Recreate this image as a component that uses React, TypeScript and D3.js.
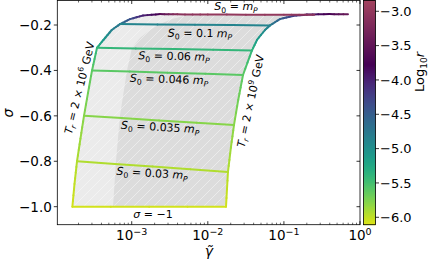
import React from "react";
import * as d3 from "d3";

// T_r = 2 x 10^6 GeV boundary
const leftGamma = [1.66e-4, 1.77e-4, 1.91e-4, 2.12e-4, 2.36e-4, 2.66e-4, 3.01e-4, 3.5e-4, 4.24e-4, 5.46e-4, 7.01e-4, 9.48e-4, 1.41e-3, 2.36e-3];
const leftSigma = [-1.0, -0.9, -0.8, -0.7, -0.6, -0.5, -0.4, -0.3, -0.266, -0.222, -0.196, -0.174, -0.158, -0.152];
const leftLogR = [-6.06, -6.0, -5.94, -5.86, -5.79, -5.7, -5.62, -5.4, -5.1, -4.85, -4.75, -4.4, -4.0, -3.75];

// T_r = 2 x 10^9 GeV boundary
const rightGamma = [0.01734, 0.0184, 0.0201, 0.0221, 0.0251, 0.029, 0.038, 0.0443, 0.0564, 0.0656, 0.0887, 0.1315, 0.201, 0.398, 0.695];
const rightSigma = [-1.0, -0.847, -0.74, -0.64, -0.53, -0.42, -0.312, -0.266, -0.222, -0.202, -0.174, -0.16, -0.154, -0.152, -0.153];
const rightLogR = [-6.06, -5.95, -5.87, -5.8, -5.7, -5.62, -5.4, -5.15, -4.95, -4.8, -4.55, -4.25, -3.95, -3.75, -3.4];

// darker shaded region, left edge
const midGamma = [5.68e-4, 6.21e-4, 7.01e-4, 8.67e-4, 1.009e-3, 1.285e-3, 1.738e-3, 2.355e-3, 3.39e-3, 5.18e-3, 9.18e-3];
const midSigma = [-1.0, -0.8, -0.6, -0.4, -0.3, -0.257, -0.222, -0.196, -0.174, -0.158, -0.153];

// S0 = m_P line
const topGamma = [2.36e-3, 3.98e-3, 0.01, 0.1, 0.251];
const topSigma = [-0.152, -0.153, -0.154, -0.1546, -0.1548];
const topLogR = [-3.6, -3.1, -3.0, -3.0, -3.1];

// constant S0 lines: [gamma left, gamma right], [sigma left, sigma right], log10 r
const s0Gamma = [[7.01e-4, 0.0656], [3.5e-4, 0.038], [3.01e-4, 0.029], [2.36e-4, 0.0221], [1.91e-4, 0.0184]];
const s0Sigma = [[-0.196, -0.202], [-0.3, -0.312], [-0.4, -0.42], [-0.6, -0.64], [-0.8, -0.847]];
const s0LogR = [-4.89, -5.4, -5.6, -5.79, -5.94];
const bottomGamma = [1.66e-4, 0.01734];
const bottomSigma = [-1.0, -1.0];
const bottomLogR = -6.06;

const yTicks = [-1.0, -0.8, -0.6, -0.4, -0.2];
const xTicks = [1e-3, 1e-2, 1e-1, 1];
const xTickExp = ["\u22123", "\u22122", "\u22121", "0"];
const cTicks = [-6.0, -5.5, -5.0, -4.5, -4.0, -3.5, -3.0];

const CB_MIN = -6.108;
const CB_MAX = -2.843;
const VIR_END = -3.78;

function colorOf(L: number): string {
  if (L <= VIR_END) {
    const v = 0.95 * Math.min(1, Math.max(0, (VIR_END - L) / (VIR_END - CB_MIN)));
    return d3.interpolateViridis(v);
  }
  const t = Math.min(1, (L - VIR_END) / (CB_MAX - VIR_END));
  return d3.interpolateRgb("#440154", "#a3445f")(t);
}

const FONT = "DejaVu Sans";

function S0Label({ val, x, y, angle = 0 }: { val: string; x: number; y: number; angle?: number }) {
  return (
    <text transform={`translate(${x},${y}) rotate(${angle})`} textAnchor="middle" fontSize={11} fontFamily={FONT} fill="#000">
      <tspan fontStyle="italic">S</tspan>
      <tspan fontSize={7.7} dy={2.5}>0</tspan>
      <tspan dy={-2.5}>{val === "" ? " = " : " = " + val + " "}</tspan>
      <tspan fontStyle="italic">m</tspan>
      <tspan fontSize={7.7} dy={2.5} fontStyle="italic">P</tspan>
    </text>
  );
}

function TrLabel({ exp, x, y, angle }: { exp: string; x: number; y: number; angle: number }) {
  return (
    <text transform={`translate(${x},${y}) rotate(${angle})`} textAnchor="middle" fontSize={11} fontFamily={FONT} dy="0.35em">
      <tspan fontStyle="italic">T</tspan>
      <tspan fontSize={7.7} dy={2.5} fontStyle="italic">r</tspan>
      <tspan dy={-2.5}>{" = 2 \u00d7 10"}</tspan>
      <tspan fontSize={7.7} dy={-4.5}>{exp}</tspan>
      <tspan dy={4.5}>{" GeV"}</tspan>
    </text>
  );
}

export default function App() {
  const x = d3.scaleLog().domain([Math.pow(10, -3.978), 1]).range([57.3, 360]);
  const y = d3.scaleLinear().domain([-1.0793, -0.0921]).range([224.7, 0.5]);
  const cy = d3.scaleLinear().domain([CB_MIN, CB_MAX]).range([224.7, 0.5]);

  const pts = (g: number[], s: number[]) => g.map((v, i) => [x(v), y(s[i])] as [number, number]);
  const leftPts = pts(leftGamma, leftSigma);
  const rightPts = pts(rightGamma, rightSigma);
  const midPts = pts(midGamma, midSigma);
  const topPts = pts(topGamma, topSigma);

  const line = d3.line();
  const lightPoly = [...leftPts, ...topPts, ...rightPts.slice().reverse()];
  const midTopX = midPts[midPts.length - 1][0];
  const darkPoly = [...midPts, ...topPts.filter((p) => p[0] > midTopX), ...rightPts.slice().reverse()];

  // split a polyline into short coloured pieces
  const segs = (p: [number, number][], ls: number[]) => {
    const out: { x1: number; y1: number; x2: number; y2: number; c: string }[] = [];
    for (let i = 0; i < p.length - 1; i++) {
      const n = 4;
      for (let k = 0; k < n; k++) {
        const t0 = k / n, t1 = (k + 1) / n;
        out.push({
          x1: p[i][0] + (p[i + 1][0] - p[i][0]) * t0,
          y1: p[i][1] + (p[i + 1][1] - p[i][1]) * t0,
          x2: p[i][0] + (p[i + 1][0] - p[i][0]) * t1,
          y2: p[i][1] + (p[i + 1][1] - p[i][1]) * t1,
          c: colorOf(ls[i] + (ls[i + 1] - ls[i]) * (t0 + t1) / 2),
        });
      }
    }
    return out;
  };

  const colored = [
    ...segs(leftPts, leftLogR),
    ...segs(rightPts, rightLogR),
    ...segs(pts(bottomGamma, bottomSigma), [bottomLogR, bottomLogR]),
    ...s0Gamma.flatMap((g, i) => segs(pts(g, s0Sigma[i]), [s0LogR[i], s0LogR[i]])),
    ...segs(topPts, topLogR),
  ];

  const minor: number[] = [];
  for (let e = -4; e < 0; e++) for (let m = 2; m <= 9; m++) {
    const v = m * Math.pow(10, e);
    if (v > x.domain()[0]) minor.push(v);
  }

  const cbRows = d3.range(0, 225);
  const px0 = 57.3, px1 = 360, py0 = 0.5, py1 = 224.7;

  return (
    <svg width={428} height={263} style={{ position: "absolute", left: 0, top: 0, background: "#fff" }} fontFamily={FONT}>
      <defs>
        <clipPath id="plot">
          <rect x={px0} y={py0} width={px1 - px0} height={py1 - py0} />
        </clipPath>
        <pattern id="hatch" patternUnits="userSpaceOnUse" width={10} height={10}>
          <path d="M-2.5,2.5 l5,-5 M0,10 l10,-10 M7.5,12.5 l5,-5" stroke="#fff" strokeWidth={0.7} opacity={0.6} />
        </pattern>
      </defs>
      <rect x={0} y={0} width={428} height={263} fill="#fff" />
      <g clipPath="url(#plot)">
        <path d={line(lightPoly) ?? ""} fill="#ebebeb" />
        <path d={line(darkPoly) ?? ""} fill="#dcdcdc" />
        <path d={line(lightPoly) ?? ""} fill="url(#hatch)" />
        {colored.map((s, i) => (
          <line key={i} x1={s.x1} y1={s.y1} x2={s.x2} y2={s.y2} stroke={s.c} strokeWidth={2} strokeLinecap="round" />
        ))}
      </g>

      <S0Label val="" x={236} y={10} />
      <S0Label val="0.1" x={200} y={37} angle={0.5} />
      <S0Label val="0.06" x={174} y={60} angle={1.2} />
      <S0Label val="0.046" x={169} y={83} angle={1.8} />
      <S0Label val="0.035" x={160} y={131} angle={3.3} />
      <S0Label val="0.03" x={152} y={177} angle={3.6} />
      <text x={153} y={218} textAnchor="middle" fontSize={11}>
        <tspan fontStyle="italic">σ</tspan>
        <tspan>{" = \u22121"}</tspan>
      </text>
      <TrLabel exp="6" x={79.5} y={88} angle={-76} />
      <TrLabel exp="9" x={250.5} y={101} angle={-78} />

      {/* spines */}
      <rect x={px0} y={py0} width={px1 - px0} height={py1 - py0} fill="none" stroke="#000" strokeWidth={0.8} />

      {/* y ticks */}
      {yTicks.map((t) => (
        <g key={t}>
          <line x1={px0 - 3.5} x2={px0} y1={y(t)} y2={y(t)} stroke="#000" strokeWidth={0.8} />
          <line x1={px1 - 3.5} x2={px1} y1={y(t)} y2={y(t)} stroke="#000" strokeWidth={0.8} />
          <text x={px0 - 5.5} y={y(t)} dy="0.36em" textAnchor="end" fontSize={13.5}>
            {d3.format(".1f")(t)}
          </text>
        </g>
      ))}

      {/* x ticks */}
      {xTicks.map((t, i) => (
        <g key={t}>
          <line x1={x(t)} x2={x(t)} y1={py1} y2={py1 - 3.5} stroke="#000" strokeWidth={0.8} />
          <line x1={x(t)} x2={x(t)} y1={py0} y2={py0 + 3.5} stroke="#000" strokeWidth={0.8} />
          <text x={x(t)} y={240} textAnchor="middle" fontSize={13.5}>
            <tspan>10</tspan>
            <tspan fontSize={9.5} dy={-5.5}>{xTickExp[i]}</tspan>
          </text>
        </g>
      ))}
      {minor.map((t) => (
        <g key={t}>
          <line x1={x(t)} x2={x(t)} y1={py1} y2={py1 - 2} stroke="#000" strokeWidth={0.6} />
          <line x1={x(t)} x2={x(t)} y1={py0} y2={py0 + 2} stroke="#000" strokeWidth={0.6} />
        </g>
      ))}

      {/* axis labels */}
      <text transform="translate(13,113) rotate(-90)" textAnchor="middle" fontSize={14} fontStyle="italic">σ</text>
      <text x={209} y={256} textAnchor="middle" fontSize={14} fontStyle="italic">γ̃</text>

      {/* colour bar */}
      {cbRows.map((r) => (
        <rect key={r} x={363.5} y={r} width={12} height={1.2} fill={colorOf(cy.invert(r + 0.5))} />
      ))}
      <rect x={363.5} y={py0} width={12} height={py1 - py0} fill="none" stroke="#000" strokeWidth={0.8} />
      {cTicks.map((t) => (
        <g key={t}>
          <line x1={375.5} x2={379} y1={cy(t)} y2={cy(t)} stroke="#000" strokeWidth={0.8} />
          <text x={380} y={cy(t)} dy="0.36em" fontSize={13}>
            {d3.format(".1f")(t)}
          </text>
        </g>
      ))}
      <text transform="translate(424,72) rotate(-90)" textAnchor="middle" fontSize={13}>
        <tspan>Log</tspan>
        <tspan fontSize={9} dy={3}>10</tspan>
        <tspan dy={-3} fontStyle="italic">r</tspan>
      </text>
    </svg>
  );
}
